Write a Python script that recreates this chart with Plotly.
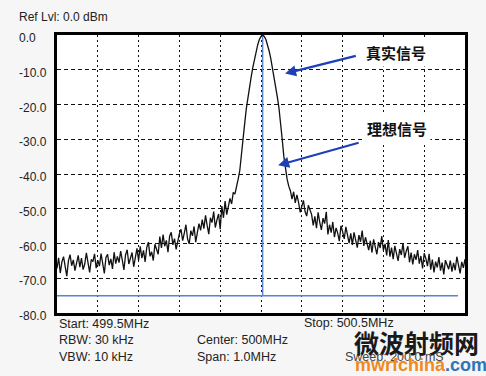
import numpy as np
import plotly.graph_objects as go

# ---- data ----
start_mhz = 499.5
stop_mhz = 500.5
n_points = 251
freq = np.linspace(start_mhz, stop_mhz, n_points)

noise_left = [
    -67.2, -64.1, -68.5, -65.3, -63.8, -66.9, -69.4, -65.0, -63.2, -66.4, -64.7, -67.8, -65.1,
    -63.4, -66.8, -64.2, -67.5, -65.9, -62.7, -66.1, -68.3, -64.6, -65.2, -63.0, -67.1, -64.8,
    -66.5, -62.9, -65.7, -68.6, -64.0, -63.1, -66.2, -64.4, -67.3, -62.5, -65.8, -63.7,
    -65.5, -62.2, -64.8, -67.6, -63.3, -61.8, -65.9, -64.1, -62.6, -66.7, -63.5, -61.4, -64.9,
    -60.8, -64.2, -62.0, -65.3, -61.1, -59.6, -63.7, -62.4, -64.9, -60.2, -61.9, -63.1,
    -58.0, -61.3, -57.4, -60.8, -59.1, -62.5, -57.9, -56.8, -60.4, -58.6, -61.7, -59.3, -57.2,
    -55.9, -59.2, -57.0, -54.6, -58.7, -60.1, -56.3, -57.8, -55.1, -59.6, -56.9, -54.3,
    -56.2, -53.1, -55.7, -51.9, -54.8, -57.3, -52.6, -54.0, -50.8, -55.4, -53.2, -51.5, -55.9,
    -49.2, -52.6, -47.8, -51.7, -49.5,
    -47.0, -48.6, -45.3,
]
lobe_left = [-45.8, -44.0, -41.5, -39.0, -35.0, -30.5, -25.5, -21.2, -17.8, -14.8,
             -12.0, -9.3, -6.8, -4.6, -2.8, -1.3, -0.4]
peak = [0.0]
lobe_right = [-0.4, -1.3, -2.8, -4.6, -6.8, -9.3, -12.0, -14.8, -17.8, -21.0,
              -25.0, -30.0, -35.0, -39.0, -41.5, -43.5]
noise_right = [
    -44.8, -47.2, -45.1, -48.3, -46.0,
    -48.1, -51.0, -49.3, -47.6, -50.8, -52.1, -49.0, -50.5,
    -51.6, -54.8, -52.2, -55.6, -51.0, -53.9, -56.1, -52.7, -54.3, -50.9,
    -57.4, -54.6, -56.9, -53.8, -58.2, -55.5, -57.0, -59.3, -54.9, -56.6, -58.7, -55.2, -57.8,
    -59.9, -57.1, -60.4, -56.8, -58.9, -61.2, -57.6, -59.5, -56.3, -60.7, -58.2, -59.8,
    -61.9, -59.2, -62.6, -58.8, -60.9, -63.1, -59.6, -61.3, -57.9, -62.0, -60.1, -63.4, -59.0,
    -63.8, -61.2, -64.5, -60.7, -62.9, -65.0, -61.6, -63.3, -59.9, -64.1, -62.2, -60.8,
    -65.4, -62.6, -66.0, -63.1, -64.7, -61.9, -65.8, -63.6, -67.2, -62.8, -64.3, -66.5, -63.0,
    -67.5, -64.6, -68.3, -65.2, -66.9, -63.9, -67.8, -65.5, -68.9, -64.8, -66.3, -67.4,
    -64.9, -68.1, -65.6, -67.7, -63.8, -66.4, -68.6, -65.3, -67.0, -64.5,
]
real_signal_db = noise_left + lobe_left + peak + lobe_right + noise_right

ideal_freq = [499.5, 500.004, 500.004, 500.004, 500.483]
ideal_db = [-75, -75, 0, -75, -75]

y_ticks = [0, -10, -20, -30, -40, -50, -60, -70, -80]
y_tick_labels = ["0.0", "-10.0", "-20.0", "-30.0", "-40.0", "-50.0", "-60.0", "-70.0", "-80.0"]
x_grid = [499.6, 499.7, 499.8, 499.9, 500.0, 500.1, 500.2, 500.3, 500.4]

FONT = "Liberation Sans, Arial, sans-serif"
CJK = "Noto Sans CJK SC, sans-serif"

fig = go.Figure()
fig.add_trace(go.Scatter(x=ideal_freq, y=ideal_db, mode="lines",
                         line=dict(color="#5b84cf", width=1.5), hoverinfo="skip",
                         showlegend=False))
fig.add_trace(go.Scatter(x=freq, y=real_signal_db, mode="lines",
                         line=dict(color="#111111", width=1.3), showlegend=False))

annotations = []
for v, t in zip(y_ticks, y_tick_labels):
    annotations.append(dict(x=-0.099, xref="paper", y=v, yref="y", text=t,
                            showarrow=False, xanchor="left", yanchor="middle",
                            yshift=-3, font=dict(family=FONT, size=12, color="#222")))

# arrows
annotations.append(dict(x=500.059, y=-11.1, ax=500.236, ay=-5.9, xref="x", yref="y",
                        axref="x", ayref="y", text="", showarrow=True, arrowhead=2,
                        arrowsize=1, arrowwidth=2.2, arrowcolor="#1d3fb8"))
annotations.append(dict(x=500.042, y=-37.5, ax=500.243, ay=-30.9, xref="x", yref="y",
                        axref="x", ayref="y", text="", showarrow=True, arrowhead=2,
                        arrowsize=1, arrowwidth=2.2, arrowcolor="#1d3fb8"))
annotations.append(dict(x=500.331, y=-5.0, xref="x", yref="y", text="<b>真实信号</b>",
                        showarrow=False, bgcolor="white", borderpad=3,
                        font=dict(family=CJK, size=15, color="#111")))
annotations.append(dict(x=500.334, y=-26.9, xref="x", yref="y", text="<b>理想信号</b>",
                        showarrow=False, bgcolor="white", borderpad=3,
                        font=dict(family=CJK, size=15, color="#111")))

def ptxt(px, py, text, size=12, color="#222", family=FONT, anchor="left"):
    annotations.append(dict(x=(px - 56.5) / 408.5, y=1 - (py - 34.5) / 278.5,
                            xref="paper", yref="paper", text=text, showarrow=False,
                            xanchor=anchor, yanchor="middle",
                            font=dict(family=family, size=size, color=color)))

ptxt(16, 16, "Ref Lvl: 0.0 dBm")
ptxt(57, 324, "Start: 499.5MHz", size=12.5)
ptxt(57, 340, "RBW: 30 kHz", size=12.5)
ptxt(57, 357, "VBW: 10 kHz", size=12.5)
ptxt(195, 340, "Center: 500MHz", size=12.5)
ptxt(195, 357, "Span: 1.0MHz", size=12.5)
ptxt(302, 323, "Stop: 500.5MHz", size=12.5)
ptxt(343, 357, "Sweep: 200.0 mS", color="#444", size=12.5)
# watermark
ptxt(352, 342, "<b>微波射频网</b>", size=25, color="#1a1a1a", family=CJK)
ptxt(353, 365, "<b><span style='color:#f08a1c'>mwrfchina</span>"
     "<span style='color:#2f74b8'>.com</span></b>", size=18, family=FONT)

fig.update_layout(
    width=486, height=376,
    margin=dict(l=56.5, r=21, t=34.5, b=63),
    paper_bgcolor="#f6f6f6", plot_bgcolor="white",
    annotations=annotations,
    xaxis=dict(range=[start_mhz, stop_mhz], tickvals=x_grid, showticklabels=False,
               ticks="", showgrid=True, gridcolor="#111", gridwidth=1,
               griddash="2px,3px", zeroline=False, showline=True, mirror=True,
               linecolor="#000", linewidth=2.5),
    yaxis=dict(range=[-80, 0], tickvals=y_ticks[1:-1], showticklabels=False,
               ticks="", showgrid=True, gridcolor="#111", gridwidth=1,
               griddash="4px,3px", zeroline=False, showline=True, mirror=True,
               linecolor="#000", linewidth=2.5),
)

fig.write_html("out.html", config={"displayModeBar": False},
               post_script="document.body.style.margin='0';"
                           "document.body.style.overflow='hidden';")
